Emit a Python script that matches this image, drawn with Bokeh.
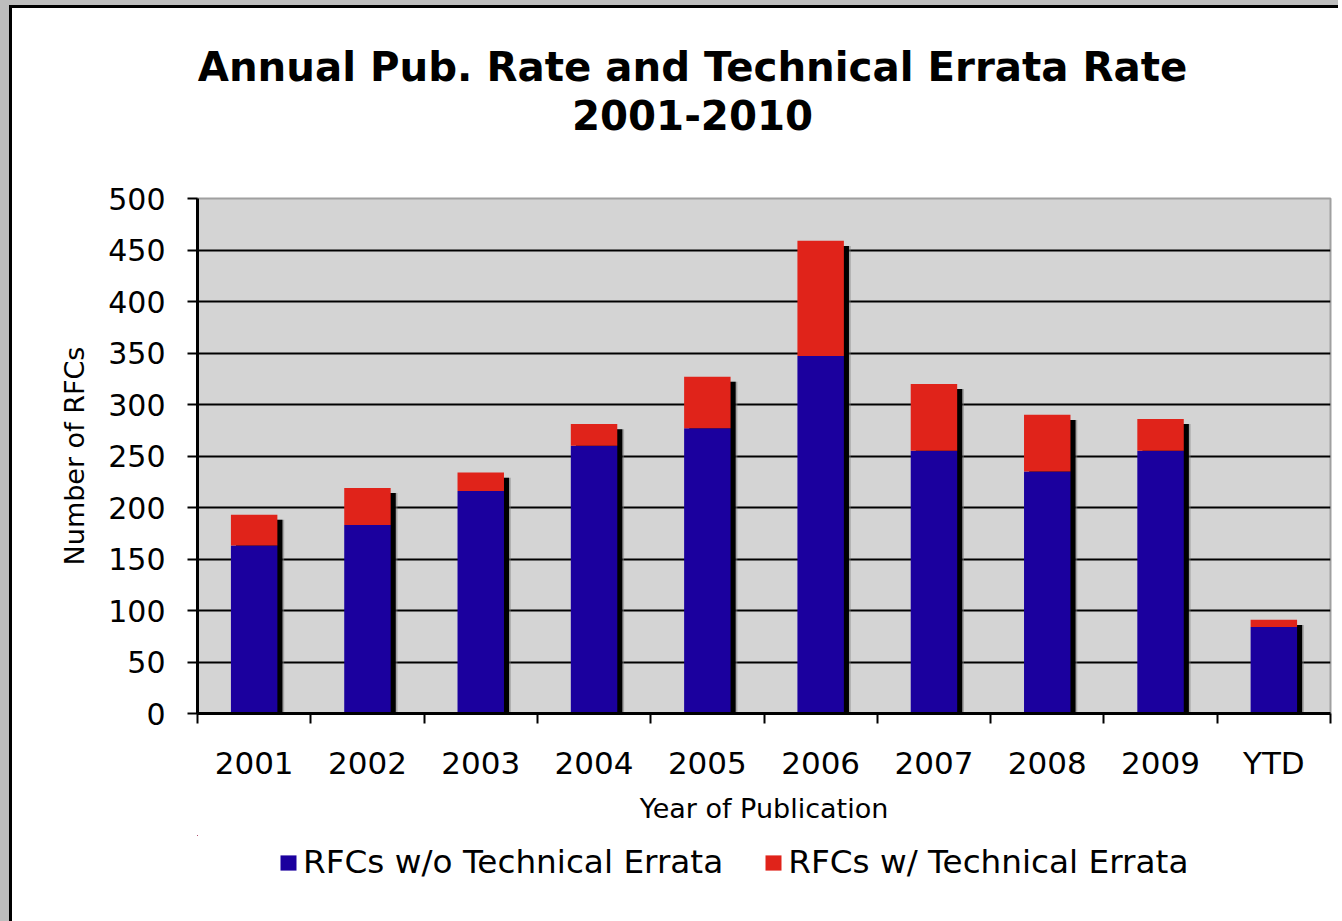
from bokeh.plotting import figure
from bokeh.layouts import column
from bokeh.models import Range1d, FixedTicker, Legend, LegendItem, ColumnDataSource, Label
from bokeh.embed import file_html
from bokeh.resources import INLINE

categories = ["2001", "2002", "2003", "2004", "2005", "2006", "2007", "2008", "2009", "YTD"]
without_errata = [163, 183, 216, 260, 277, 347, 255, 235, 255, 84]
with_errata = [30, 36, 18, 21, 50, 112, 65, 55, 31, 7]
y_ticks = [0, 50, 100, 150, 200, 250, 300, 350, 400, 450, 500]
series_names = ["RFCs w/o Technical Errata", "RFCs w/ Technical Errata"]
title_lines = ["Annual Pub. Rate and Technical Errata Rate", "2001-2010"]
x_title = "Year of Publication"
y_title = "Number of RFCs"

BLUE = "#1b009e"
RED = "#e0231a"
FONT = "DejaVu Sans"
WIDTH = 1326
FRAME_L, FRAME_R = 197, 1330   # page x of the plotting frame edges
LEFT_OFF, TOP_OFF = 12, 8      # page offset of the content (frame border)


def bare_figure(height, x_range, y_range):
    f = figure(width=WIDTH, height=height, x_range=x_range, y_range=y_range,
               output_backend="svg", toolbar_location=None,
               x_axis_location=None, y_axis_location=None,
               min_border=0, outline_line_color=None,
               background_fill_color="white", border_fill_color="white")
    f.grid.visible = False
    return f


n = len(categories)
xs = [i + 0.5 for i in range(n)]
totals = [a + b for a, b in zip(without_errata, with_errata)]
src = ColumnDataSource(dict(
    x=xs,
    without=without_errata,
    total=totals,
    sx=[x + 0.045 for x in xs],
    sx2=[x + 0.06 for x in xs],
    stop=[t - 5 for t in totals],
))

# ---- title strip (frame aligned with main frame; coordinates in page pixels) ----
tf = bare_figure(150 - TOP_OFF, Range1d(FRAME_L, FRAME_R), Range1d(150, TOP_OFF))
for text, ty in zip(title_lines, [67, 114]):
    tf.add_layout(Label(x=692, y=ty, text=text, text_align="center", text_baseline="middle",
                        text_font=FONT, text_font_size="40.3px", text_font_style="bold",
                        text_color="black"))

# ---- main chart ----
p = figure(width=WIDTH, height=685, x_range=Range1d(0, n), y_range=Range1d(0, 500),
           output_backend="svg", toolbar_location=None,
           min_border_left=FRAME_L - LEFT_OFF, min_border_right=LEFT_OFF + WIDTH - FRAME_R,
           min_border_top=48, min_border_bottom=122,
           background_fill_color="#d4d4d4", border_fill_color="white")
p.outline_line_color = "#a0a0a0"
p.outline_line_width = 2

p.xgrid.visible = False
p.ygrid.ticker = FixedTicker(ticks=y_ticks[1:-1])
p.ygrid.grid_line_color = "black"
p.ygrid.grid_line_width = 2

W = 0.41
p.vbar(x="sx2", top="stop", bottom=0, width=W, source=src, fill_color="#777777",
       fill_alpha=0.5, line_color=None)
p.vbar(x="sx", top="stop", bottom=0, width=W, source=src, fill_color="black", line_color=None)
p.vbar(x="x", top="without", bottom=0, width=W, source=src, fill_color=BLUE, line_color=None)
p.vbar(x="x", top="total", bottom="without", width=W, source=src, fill_color=RED, line_color=None)

ya = p.yaxis[0]
ya.ticker = FixedTicker(ticks=y_ticks)
ya.axis_line_width = 3
ya.axis_line_color = "black"
ya.major_tick_out = 10
ya.major_tick_in = 0
ya.major_tick_line_width = 2
ya.minor_tick_line_color = None
ya.major_label_text_font = FONT
ya.major_label_text_font_size = "30px"
ya.major_label_text_color = "black"
ya.major_label_standoff = 22
ya.axis_label = y_title
ya.axis_label_text_font = FONT
ya.axis_label_text_font_size = "27px"
ya.axis_label_text_font_style = "normal"
ya.axis_label_text_color = "black"
ya.axis_label_standoff = 15

xa = p.xaxis[0]
xa.ticker = FixedTicker(ticks=xs, minor_ticks=list(range(n + 1)))
xa.major_label_overrides = {x: c for x, c in zip(xs, categories)}
xa.axis_line_width = 3
xa.axis_line_color = "black"
xa.major_tick_out = 0
xa.major_tick_in = 0
xa.major_tick_line_color = None
xa.minor_tick_out = 10
xa.minor_tick_in = 0
xa.minor_tick_line_width = 2
xa.minor_tick_line_color = "black"
xa.major_label_text_font = FONT
xa.major_label_text_font_size = "31px"
xa.major_label_text_color = "black"
xa.major_label_standoff = 21
xa.axis_label = x_title
xa.axis_label_text_font = FONT
xa.axis_label_text_font_size = "27px"
xa.axis_label_text_font_style = "normal"
xa.axis_label_text_color = "black"
xa.axis_label_standoff = 9

# ---- legend strip (series renderers lie outside this strip's visible ranges) ----
lf = bare_figure(86, Range1d(FRAME_L, FRAME_R), Range1d(-2, -1))
lr1 = lf.vbar(x="x", top="without", bottom=0, width=W, source=src, fill_color=BLUE, line_color=None)
lr2 = lf.vbar(x="x", top="total", bottom="without", width=W, source=src, fill_color=RED, line_color=None)
legend = Legend(items=[LegendItem(label=series_names[0], renderers=[lr1]),
                       LegendItem(label=series_names[1], renderers=[lr2])],
                orientation="horizontal", location=(81, 40), margin=0, padding=10,
                label_text_font=FONT, label_text_font_size="32.7px", label_text_color="black",
                glyph_width=20, glyph_height=19, label_standoff=5, spacing=40,
                border_line_color=None, background_fill_alpha=0)
lf.add_layout(legend)

layout = column(tf, p, lf, spacing=0)
layout.styles = {
    "border-left": "9px solid #bdbdbd",
    "border-top": "5px solid #bdbdbd",
    "padding-left": "3px",
    "padding-top": "3px",
    "box-shadow": "inset 3px 3px 0 0 black",
    "background-color": "white",
}
open("out.html", "w").write(file_html(layout, INLINE))
